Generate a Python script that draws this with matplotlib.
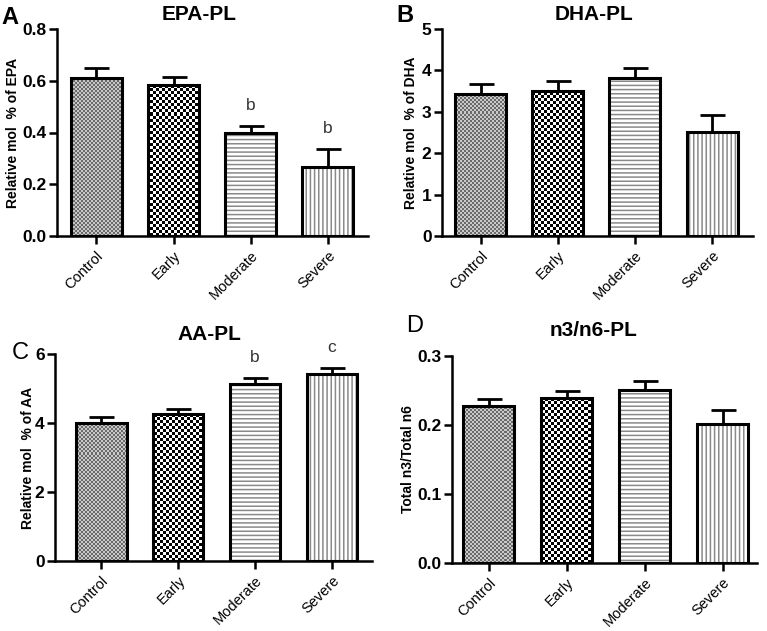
import numpy as np
import matplotlib
matplotlib.use('Agg')
import matplotlib.pyplot as plt
from matplotlib.colors import ListedColormap

plt.rcParams['font.family'] = ['Liberation Sans', 'DejaVu Sans']
plt.rcParams['hatch.linewidth'] = 1.1

# 数据
groups = ['Control', 'Early', 'Moderate', 'Severe']

epa = [0.61, 0.585, 0.40, 0.268]
epa_err = [0.038, 0.031, 0.025, 0.068]
epa_marks = ['', '', 'b', 'b']

dha = [3.44, 3.50, 3.82, 2.52]
dha_err = [0.22, 0.25, 0.25, 0.40]

aa = [4.01, 4.25, 5.13, 5.42]
aa_err = [0.16, 0.16, 0.18, 0.17]
aa_marks = ['', '', 'b', 'c']

n3n6 = [0.227, 0.239, 0.251, 0.201]
n3n6_err = [0.011, 0.011, 0.013, 0.021]

W, H = 767, 631
fig = plt.figure(figsize=(W / 100, H / 100), dpi=100)


def px_rect(l, r, t, b):
    return [l / W, 1 - b / H, (r - l) / W, (b - t) / H]


def checker(ax, patch, cell, c1, c2):
    # 棋盘格填充，裁剪到柱子形状
    pos = ax.get_position()
    nx = int(pos.width * W / cell) + 1
    ny = int(pos.height * H / cell) + 1
    arr = (np.add.outer(np.arange(ny), np.arange(nx)) % 2)
    x0, x1 = ax.get_xlim()
    y0, y1 = ax.get_ylim()
    x1 = x0 + nx * cell * (x1 - x0) / (pos.width * W)
    y1 = y0 + ny * cell * (y1 - y0) / (pos.height * H)
    im = ax.imshow(arr, cmap=ListedColormap([c1, c2]), extent=(x0, x1, y0, y1),
                   origin='lower', interpolation='nearest', aspect='auto', zorder=1)
    im.set_clip_path(patch)


def panel(rect, vals, errs, ymax, yticks, fmt, ylabel, label_x, xlim, marks=None):
    ax = fig.add_axes(rect)
    x = np.arange(len(groups))
    ax.set_xlim(*xlim)
    ax.set_ylim(0, ymax)
    width = 0.66
    bars = ax.bar(x, vals, width, facecolor='white', edgecolor='none', zorder=1)
    checker(ax, bars[0], 2, '#c9c9c9', '#6a6a6a')
    checker(ax, bars[1], 3, 'white', 'black')
    ax.bar(x[2], vals[2], width, facecolor='white', edgecolor='#8a8a8a', hatch='----',
           linewidth=0, zorder=1)
    ax.bar(x[3], vals[3], width, facecolor='white', edgecolor='#8a8a8a', hatch='||||',
           linewidth=0, zorder=1)
    ax.bar(x, vals, width, facecolor='none', edgecolor='black', linewidth=2.2, zorder=3)
    ax.errorbar(x, vals, yerr=[np.zeros(len(vals)), errs], fmt='none', ecolor='black',
                elinewidth=2, capsize=9, capthick=2, zorder=2)
    ax.set_xlim(*xlim)
    ax.set_ylim(0, ymax)
    if marks:
        for xi, v, e, m in zip(x, vals, errs, marks):
            if m:
                ax.text(xi, v + e + 0.1 * ymax, m, ha='center', va='center',
                        fontsize=12.5, color='#333333', clip_on=False)
    for s in ['top', 'right']:
        ax.spines[s].set_visible(False)
    for s in ['left', 'bottom']:
        ax.spines[s].set_linewidth(1.8)
    ax.set_yticks(yticks)
    ax.set_yticklabels([fmt.format(t) for t in yticks], fontsize=12.5, fontweight='bold')
    ax.set_xticks(x)
    ax.set_xticklabels(groups, rotation=45, ha='right', rotation_mode='anchor', fontsize=10.5)
    ax.tick_params(axis='both', width=1.8, length=5.5, direction='out')
    ax.tick_params(axis='y', pad=2)
    ax.set_ylabel(ylabel, fontsize=10, fontweight='bold')
    ax.yaxis.set_label_coords(label_x, 0.5)
    return ax


panel(px_rect(57, 368, 29, 236), epa, epa_err, 0.8, [0, 0.2, 0.4, 0.6, 0.8], '{:.1f}',
      'Relative mol  % of EPA', -0.119, (-0.51, 3.52), epa_marks)
panel(px_rect(442, 753, 29, 236), dha, dha_err, 5, [0, 1, 2, 3, 4, 5], '{:d}',
      'Relative mol  % of DHA', -0.077, (-0.5, 3.53))
panel(px_rect(55, 372, 354, 561), aa, aa_err, 6, [0, 2, 4, 6], '{:d}',
      'Relative mol  % of AA', -0.063, (-0.6, 3.52), aa_marks)
panel(px_rect(452, 757, 356, 563), n3n6, n3n6_err, 0.3, [0, 0.1, 0.2, 0.3], '{:.1f}',
      'Total n3/Total n6', -0.121, (-0.47, 3.44))

# 标题和面板字母
for (tx, ty, t) in [(199, 15, 'EPA-PL'), (594, 15, 'DHA-PL'), (209, 335, 'AA-PL'),
                    (594, 330, 'n3/n6-PL')]:
    fig.text(tx / W, 1 - ty / H, t, ha='center', va='center', fontsize=15,
             fontweight='bold')
for (lx, ly, t, w) in [(10, 17, 'A', 'bold'), (405, 16, 'B', 'bold'),
                       (20, 353, 'C', 'normal'), (415, 326, 'D', 'normal')]:
    fig.text(lx / W, 1 - ly / H, t, ha='center', va='center', fontsize=17, fontweight=w)

fig.savefig('out.png', dpi=100)
